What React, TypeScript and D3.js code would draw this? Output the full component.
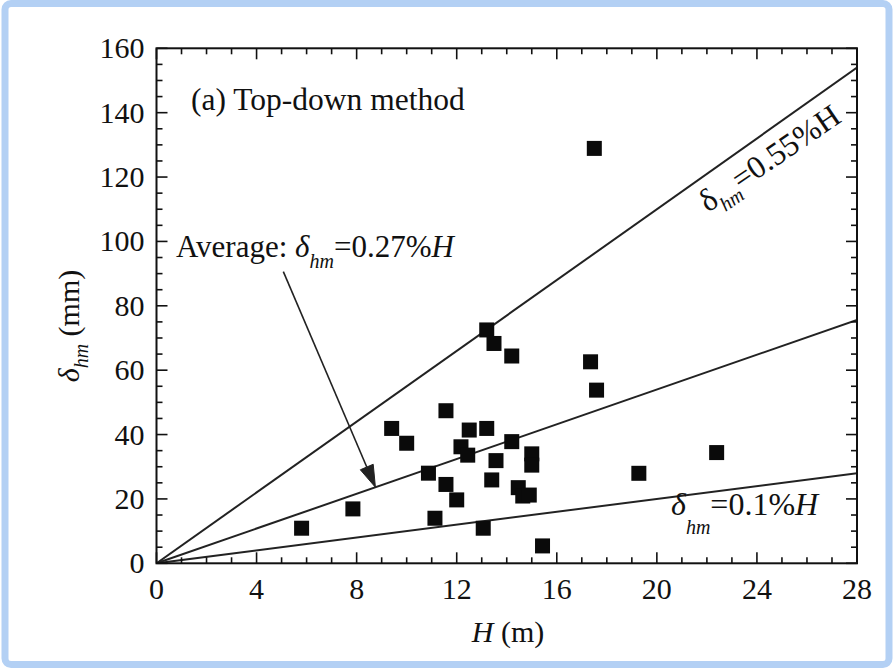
import React from "react";
import * as d3 from "d3";

const H_m = [5.8, 7.85, 9.4, 10.0, 10.87, 11.13, 11.57, 11.57, 12.0, 12.17, 12.44, 12.5, 13.06, 13.2, 13.2, 13.4, 13.49, 13.57, 14.2, 14.2, 14.46, 14.64, 14.9, 15.0, 15.0, 15.43, 17.35, 17.5, 17.59, 19.28, 22.39];
const delta_mm = [10.9, 16.9, 41.9, 37.3, 28.0, 14.0, 47.4, 24.5, 19.7, 36.2, 33.6, 41.4, 10.9, 72.5, 41.9, 25.9, 68.3, 31.9, 64.4, 37.8, 23.5, 20.9, 21.2, 34.0, 30.5, 5.4, 62.6, 128.9, 53.8, 27.96, 34.4];
const ratios = [0.55, 0.27, 0.1]; // % of H
const xTicks = [0, 4, 8, 12, 16, 20, 24, 28];
const yTicks = [0, 20, 40, 60, 80, 100, 120, 140, 160];

const FONT = "Liberation Serif, DejaVu Serif, serif";
const T: React.CSSProperties = { fontFamily: FONT };

export default function App() {
  const W = 896, Hh = 669;
  const x = d3.scaleLinear().domain([0, 28]).range([156.5, 857]);
  const y = d3.scaleLinear().domain([0, 160]).range([563.3, 48.3]);
  const x0 = x(0), x1 = x(28), y0 = y(0), y1 = y(160);

  const xMinor = d3.range(0, 29, 1);
  const yMinor = d3.range(0, 161, 5);
  const line = d3.line<[number, number]>().x(d => x(d[0])).y(d => y(d[1]));
  const sq = 15;

  const aStart: [number, number] = [5.07, 90.6];
  const aEnd: [number, number] = [8.75, 0.27 * 10 * 8.75];
  const sx = x(aStart[0]), sy = y(aStart[1]), ex = x(aEnd[0]), ey = y(aEnd[1]);
  const ang = Math.atan2(ey - sy, ex - sx);
  const aL = 22, aW = 7;
  const bx = ex - aL * Math.cos(ang), by = ey - aL * Math.sin(ang);
  const px = -Math.sin(ang), py = Math.cos(ang);
  const head = `M${ex},${ey} L${bx + aW * px},${by + aW * py} L${bx - aW * px},${by - aW * py} Z`;

  const rotAng = (Math.atan2(y(0.55 * 10 * 28) - y(0), x(28) - x(0)) * 180) / Math.PI;

  return (
    <svg width={W} height={Hh} style={{ position: "absolute", left: 0, top: 0, background: "#fff", fontFamily: FONT }}>
      <rect x={5} y={3.5} width={884} height={661} rx={6} fill="none" stroke="#b3d0f4" strokeWidth={7} />

      <clipPath id="clip"><rect x={x0} y={y1} width={x1 - x0} height={y0 - y1} /></clipPath>
      <g clipPath="url(#clip)">
        {ratios.map((r, i) => (
          <path key={i} d={line([[0, 0], [28, r * 10 * 28]]) || ""} fill="none" stroke="#222" strokeWidth={2} />
        ))}
      </g>

      <line x1={sx} y1={sy} x2={bx} y2={by} stroke="#222" strokeWidth={1.6} />
      <path d={head} fill="#222" stroke="#222" strokeWidth={1} />

      {H_m.map((h, i) => (
        <rect key={i} x={x(h) - sq / 2} y={y(delta_mm[i]) - sq / 2} width={sq} height={sq} fill="#0a0a0a" />
      ))}

      <rect x={x0} y={y1} width={x1 - x0} height={y0 - y1} fill="none" stroke="#111" strokeWidth={2} />
      {xMinor.map(v => {
        const l = v % 4 === 0 ? 11 : 6;
        return (
          <g key={"xt" + v} stroke="#111" strokeWidth={1.6}>
            <line x1={x(v)} x2={x(v)} y1={y0} y2={y0 - l} />
            <line x1={x(v)} x2={x(v)} y1={y1} y2={y1 + l} />
          </g>
        );
      })}
      {yMinor.map(v => {
        const l = v % 20 === 0 ? 11 : 6;
        return (
          <g key={"yt" + v} stroke="#111" strokeWidth={1.6}>
            <line x1={x0} x2={x0 + l} y1={y(v)} y2={y(v)} />
            <line x1={x1} x2={x1 - l} y1={y(v)} y2={y(v)} />
          </g>
        );
      })}
      {xTicks.map(v => (
        <text key={"xl" + v} style={T} x={x(v)} y={599} textAnchor="middle" fontSize={30} fill="#111">{v}</text>
      ))}
      {yTicks.map(v => (
        <text key={"yl" + v} style={T} x={x0 - 12} y={y(v) + 10} textAnchor="end" fontSize={30} fill="#111">{v}</text>
      ))}

      <text style={T} x={508} y={642} textAnchor="middle" fontSize={30} fill="#111">
        <tspan fontStyle="italic">H</tspan>
        <tspan> (m)</tspan>
      </text>
      <text style={T} transform="translate(79,326) rotate(-90)" textAnchor="middle" fontSize={30} fill="#111">
        <tspan fontStyle="italic">δ</tspan>
        <tspan fontStyle="italic" fontSize={20} dy={9}>hm</tspan>
        <tspan dy={-9}> (mm)</tspan>
      </text>

      <text style={T} x={191} y={110} fontSize={31.5} fill="#111">(a) Top-down method</text>
      <text style={T} x={176} y={257} fontSize={31} fill="#111">
        <tspan>Average: </tspan>
        <tspan fontStyle="italic">δ</tspan>
        <tspan fontStyle="italic" fontSize={20} dy={11}>hm</tspan>
        <tspan dy={-11}>=0.27%</tspan>
        <tspan fontStyle="italic">H</tspan>
      </text>
      <text style={T} x={671} y={515} fontSize={32} fill="#111">
        <tspan fontStyle="italic">δ</tspan>
        <tspan fontStyle="italic" fontSize={20} dy={19}>hm</tspan>
        <tspan dy={-19}>=0.1%</tspan>
        <tspan fontStyle="italic">H</tspan>
      </text>
      <text style={T} transform={`translate(708,213) rotate(${rotAng + 1})`} fontSize={32} fill="#111">
        <tspan>δ</tspan>
        <tspan fontStyle="italic" fontSize={20} dy={9}>hm</tspan>
        <tspan dy={-9}>=0.55%H</tspan>
      </text>
    </svg>
  );
}
